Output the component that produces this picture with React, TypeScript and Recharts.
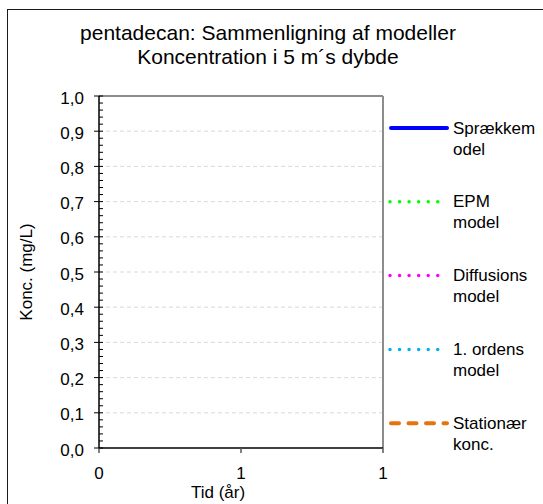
import React from 'react';
import { LineChart, Line, XAxis, YAxis, CartesianGrid, Legend, ReferenceLine } from 'recharts';

// x values (tid i år) and the five model series (no values are plotted in the figure)
const tidAar = [0, 0.5, 1];
const spraekkemodel: (number | null)[] = [null, null, null];
const epmModel: (number | null)[] = [null, null, null];
const diffusionsModel: (number | null)[] = [null, null, null];
const ordensModel: (number | null)[] = [null, null, null];
const stationaerKonc: (number | null)[] = [null, null, null];

const seriesNames = ['Sprækkemodel', 'EPM model', 'Diffusions model', '1. ordens model', 'Stationær konc.'];
const yMajorTicks = [0, 0.1, 0.2, 0.3, 0.4, 0.5, 0.6, 0.7, 0.8, 0.9, 1.0];
const yGridValues = [0.1, 0.2, 0.3, 0.4, 0.5, 0.6, 0.7, 0.8, 0.9];
const xTicks = [0, 0.5, 1];

const FONT = "'Liberation Sans', Arial, sans-serif";

// minor ticks every 0.02 between the major ticks
const yAllTicks: number[] = [];
yMajorTicks.forEach((t, i) => {
  yAllTicks.push(t);
  if (i < yMajorTicks.length - 1) {
    for (let k = 1; k < 5; k++) yAllTicks.push(+(t + k * 0.02).toFixed(2));
  }
});

const data = tidAar.map((t, i) => ({
  tid: t,
  s1: spraekkemodel[i],
  s2: epmModel[i],
  s3: diffusionsModel[i],
  s4: ordensModel[i],
  s5: stationaerKonc[i],
}));

const seriesStyle = [
  { key: 's1', color: '#0000FF', width: 4, dash: undefined as string | undefined, x1: 391, x2: 447 },
  { key: 's2', color: '#00FF00', width: 3.5, dash: '0 9.55', x1: 390, x2: 447.3 },
  { key: 's3', color: '#FF00FF', width: 3.5, dash: '0 9.55', x1: 390, x2: 447.3 },
  { key: 's4', color: '#00B0F0', width: 3.5, dash: '0 9.55', x1: 390, x2: 447.3 },
  { key: 's5', color: '#E8720C', width: 4, dash: '8 9.5', x1: 391, x2: 447 },
];

const fmt = (v: number) => v.toFixed(1).replace('.', ',');

const YTick = (props: any) => {
  const { x, y, payload } = props;
  const v = payload.value as number;
  const major = Math.abs(v * 10 - Math.round(v * 10)) < 1e-6;
  if (!major) return <line x1={x} x2={x + 4} y1={y} y2={y} stroke="#000" strokeWidth={1} />;
  return (
    <g>
      <line x1={x - 5} x2={x + 4} y1={y} y2={y} stroke="#000" strokeWidth={1} />
      <text x={x - 15} y={y} dy={7.5} textAnchor="end" fontSize={17} fontFamily={FONT} fill="#000">
        {fmt(v)}
      </text>
    </g>
  );
};

const XTick = (props: any) => {
  const { x, y, payload } = props;
  return (
    <g>
      <line x1={x} x2={x} y1={y} y2={y + 5} stroke="#595959" strokeWidth={1.5} />
      <text x={x} y={y + 31} textAnchor="middle" fontSize={17} fontFamily={FONT} fill="#000">
        {Math.round(payload.value)}
      </text>
    </g>
  );
};

const LegendBox = () => (
  <div style={{ position: 'relative', width: 543, height: 504, fontFamily: FONT }}>
    {seriesStyle.map((s, i) => {
      const ly = 128 + i * 73.8;
      return (
        <React.Fragment key={s.key}>
          <svg style={{ position: 'absolute', left: 0, top: 0, overflow: 'visible' }} width={1} height={1}>
            <line
              x1={s.x1}
              x2={s.x2}
              y1={ly}
              y2={ly}
              stroke={s.color}
              strokeWidth={s.width}
              strokeDasharray={s.dash}
              strokeLinecap="round"
            />
          </svg>
          <div
            style={{
              position: 'absolute',
              left: 453,
              top: ly - 10.5,
              width: 84,
              fontSize: 17,
              lineHeight: '21px',
              color: '#000',
              overflowWrap: 'anywhere',
              textAlign: 'left',
            }}
          >
            {seriesNames[i]}
          </div>
        </React.Fragment>
      );
    })}
  </div>
);

export default function App() {
  return (
    <div
      style={{
        position: 'absolute',
        left: 0,
        top: 0,
        width: 543,
        height: 504,
        overflow: 'hidden',
        background: '#fff',
        fontFamily: FONT,
      }}
    >
      <div
        style={{
          position: 'absolute',
          left: 7,
          top: 9,
          width: 620,
          height: 620,
          border: '1px solid #1a1a1a',
        }}
      />
      <div
        style={{
          position: 'absolute',
          left: 0,
          top: 21,
          width: 536,
          textAlign: 'center',
          fontSize: 21,
          lineHeight: '24px',
          color: '#000',
        }}
      >
        pentadecan: Sammenligning af modeller
        <br />
        Koncentration i 5 m´s dybde
      </div>
      <LineChart
        width={543}
        height={504}
        data={data}
        margin={{ top: 96, right: 160, bottom: 0, left: 0 }}
        style={{ position: 'absolute', left: 0, top: 0 }}
      >
        <CartesianGrid
          vertical={false}
          horizontalValues={yGridValues}
          stroke="#d9d9d9"
          strokeDasharray="4 3"
        />
        <XAxis
          dataKey="tid"
          type="number"
          domain={[0, 1]}
          ticks={xTicks}
          height={56}
          tickSize={0}
          tickMargin={0}
          tick={<XTick />}
          axisLine={{ stroke: '#000', strokeWidth: 1.5 }}
          label={(p: any) => {
            const vb = p.viewBox || {};
            return (
              <text
                x={vb.x + vb.width / 2 - 23}
                y={498}
                textAnchor="middle"
                fontSize={17}
                fontFamily={FONT}
                fill="#000"
              >
                Tid (år)
              </text>
            );
          }}
        />
        <YAxis
          type="number"
          domain={[0, 1]}
          ticks={yAllTicks}
          interval={0}
          width={99}
          tickSize={0}
          tickMargin={0}
          tick={<YTick />}
          axisLine={{ stroke: '#000', strokeWidth: 1.5 }}
          allowDataOverflow
          label={(p: any) => {
            const vb = p.viewBox || {};
            const cy = vb.y + vb.height / 2;
            return (
              <text
                x={26}
                y={cy}
                transform={`rotate(-90 26 ${cy})`}
                textAnchor="middle"
                dominantBaseline="central"
                fontSize={17}
                fontFamily={FONT}
                fill="#000"
              >
                Konc. (mg/L)
              </text>
            );
          }}
        />
        <ReferenceLine y={1} stroke="#8c8c8c" strokeWidth={2} />
        <ReferenceLine x={1} stroke="#8c8c8c" strokeWidth={2} />
        {seriesStyle.map((s, i) => (
          <Line
            key={s.key}
            dataKey={s.key}
            name={seriesNames[i]}
            stroke={s.color}
            strokeWidth={s.width}
            strokeDasharray={s.dash}
            dot={false}
            connectNulls={false}
            isAnimationActive={false}
          />
        ))}
        <Legend
          layout="horizontal"
          align="center"
          verticalAlign="middle"
          wrapperStyle={{ left: 0, top: 0, width: 543, height: 504, pointerEvents: 'none' }}
          content={() => <LegendBox />}
        />
      </LineChart>
    </div>
  );
}
